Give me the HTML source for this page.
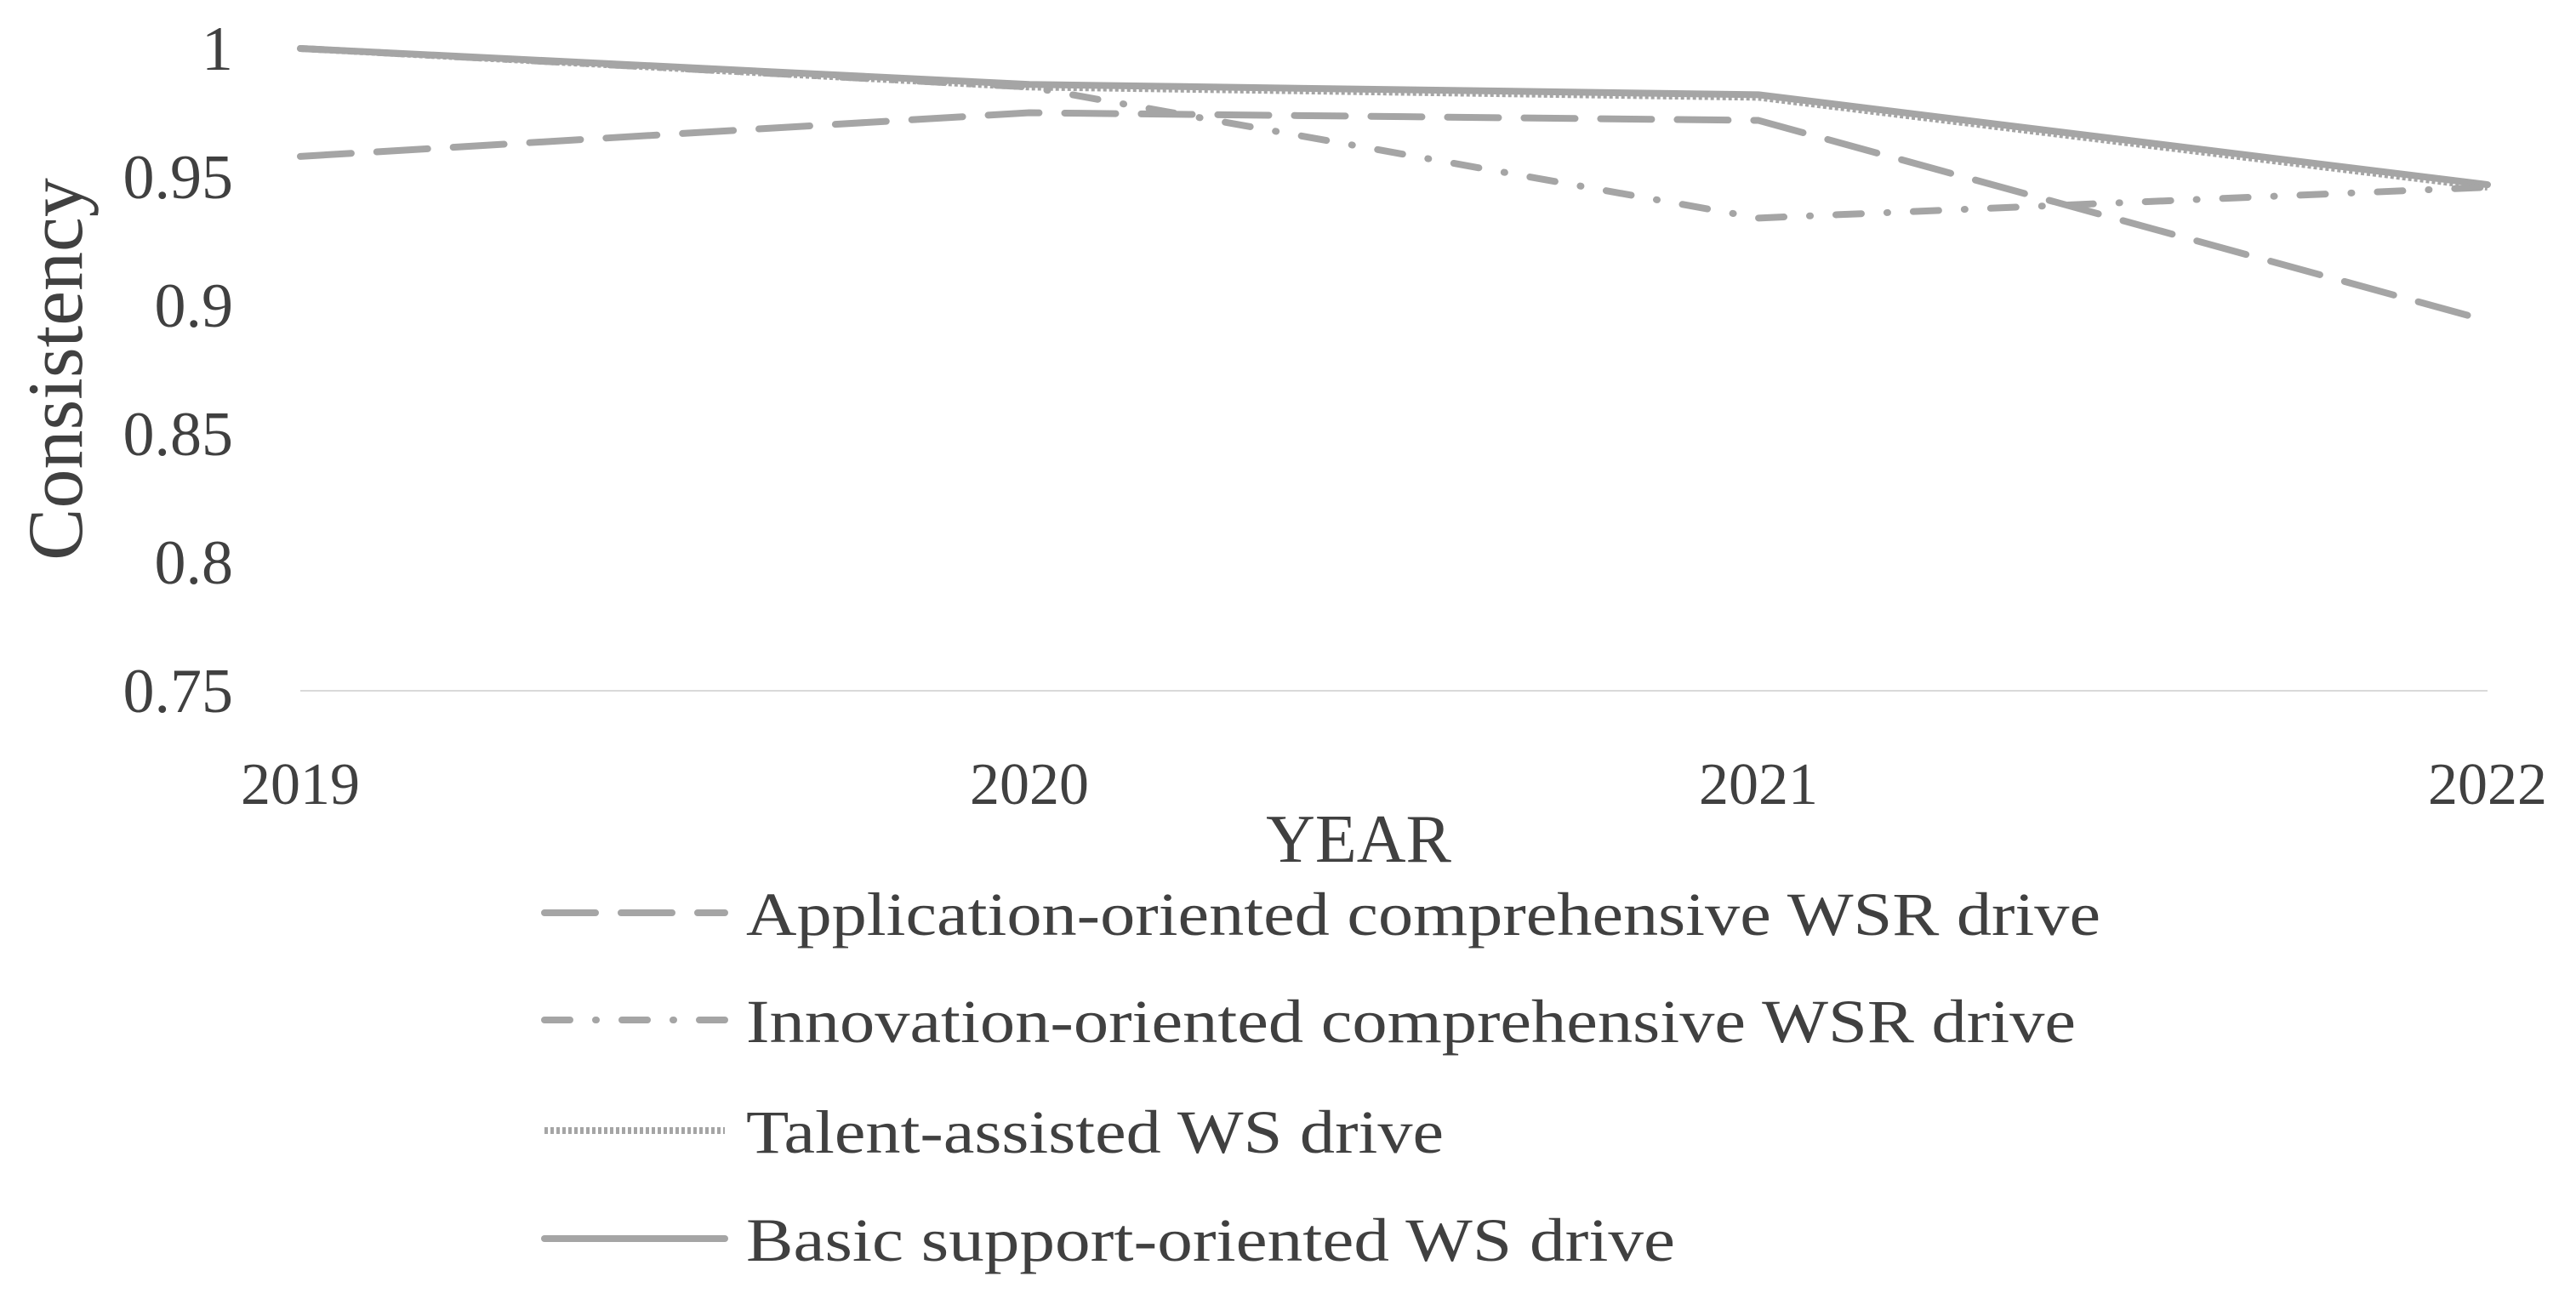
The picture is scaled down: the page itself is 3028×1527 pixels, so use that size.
<!DOCTYPE html>
<html><head><meta charset="utf-8"><style>
html,body{margin:0;padding:0;background:#fff;}
svg{display:block;}
text{font-family:"Liberation Serif",serif;fill:#404040;}
</style></head><body>
<svg id="chart" width="3028" height="1527" viewBox="0 0 3028 1527" xmlns="http://www.w3.org/2000/svg">
<g id="grid"></g>
<g id="yticks"></g>
<g id="xticks"></g>
<g id="series"></g>
<text x="0" y="0" transform="translate(96,434) rotate(-90)" text-anchor="middle" font-size="92">Consistency</text>
<text x="1597" y="1013" text-anchor="middle" font-size="80">YEAR</text>
<g id="legend"></g>
</svg>
<script>
const categories = ["2019","2020","2021","2022"];
const seriesNames = ["Application-oriented comprehensive WSR drive","Innovation-oriented comprehensive WSR drive","Talent-assisted WS drive","Basic support-oriented WS drive"];
const appValues = [0.958, 0.975, 0.972, 0.894];
const innovValues = [1.0, 0.985, 0.934, 0.946];
const talentValues = [1.0, 0.985, 0.981, 0.946];
const basicValues = [1.0, 0.986, 0.982, 0.947];
const yTicks = [0.75, 0.8, 0.85, 0.9, 0.95, 1];
const yTickLabels = ["0.75","0.8","0.85","0.9","0.95","1"];

const NS = "http://www.w3.org/2000/svg";
const x0 = 353, x1 = 2924, yTop = 57, yBot = 812, yMin = 0.75, yMax = 1;
function xs(i){ return x0 + (x1 - x0) * i / (categories.length - 1); }
function ys(v){ return yBot - (v - yMin) / (yMax - yMin) * (yBot - yTop); }
function mk(tag, attrs, parent){ const e = document.createElementNS(NS, tag); for (const k in attrs) e.setAttribute(k, attrs[k]); parent.appendChild(e); return e; }

const grid = document.getElementById('grid');
const gl = mk('line', {x1:x0, x2:x1, y1:ys(yMin), y2:ys(yMin), stroke:'#d9d9d9', 'stroke-width':2}, grid);



const yt = document.getElementById('yticks');
yTicks.forEach((v, i) => {
  const t = mk('text', {x:274, y:ys(v) + 25, 'text-anchor':'end', 'font-size':74}, yt);
  t.textContent = yTickLabels[i];
  
  
});
const xt = document.getElementById('xticks');
categories.forEach((c, i) => {
  const t = mk('text', {x:xs(i), y:945, 'text-anchor':'middle', 'font-size':70}, xt);
  t.textContent = c;
  
  
});

const styles = [
  {dash:'60 30', cap:'round'},
  {dash:'30 30 1 30', cap:'round'},
  {dash:'4 3', cap:'butt'},
  {dash:'', cap:'round'}
];
const allVals = [appValues, innovValues, talentValues, basicValues];
const seriesKeys = ['application-oriented','innovation-oriented','talent-assisted','basic-support'];
const sg = document.getElementById('series');
[3,2,1,0].forEach(k => {
  const vals = allVals[k];
  const pts = vals.map((v, i) => xs(i) + ',' + ys(v)).join(' ');
  const p = mk('polyline', {points:pts, fill:'none', stroke:'#a5a5a5', 'stroke-width':8, 'stroke-linecap':styles[k].cap, 'stroke-linejoin':'round'}, sg);
  if (styles[k].dash) p.setAttribute('stroke-dasharray', styles[k].dash);
  
  
});

const lg = document.getElementById('legend');
const rowY = [1077, 1203, 1333, 1460];
const widths = [1592, 1563, 820, 1092];
seriesNames.forEach((n, k) => {
  const g = mk('g', {}, lg);
  
  
  const l = mk('line', {x1:640, x2:852, y1:rowY[k] - 4, y2:rowY[k] - 4, stroke:'#a5a5a5', 'stroke-width':8, 'stroke-linecap':styles[k].cap}, g);
  if (styles[k].dash) l.setAttribute('stroke-dasharray', styles[k].dash);
  
  
  const t = mk('text', {x:877, y:rowY[k] + 22, 'font-size':72, textLength:widths[k], lengthAdjust:'spacingAndGlyphs'}, g);
  t.textContent = n;
  
  
});
</script>
</body></html>
